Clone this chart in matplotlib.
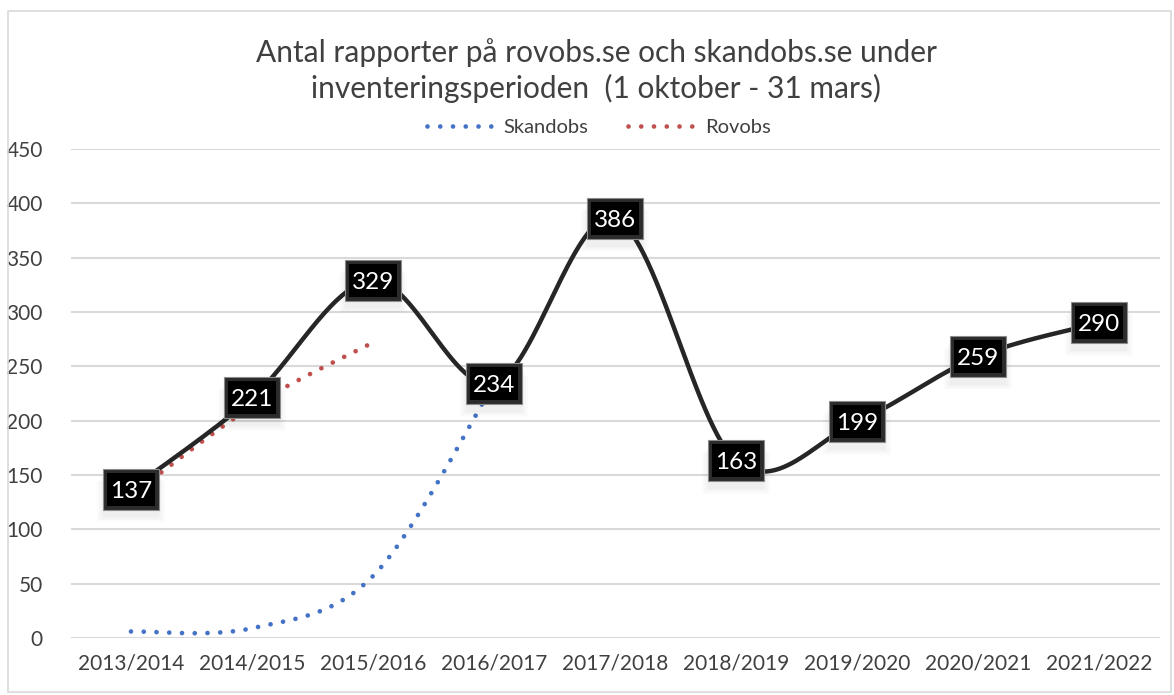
import matplotlib
matplotlib.use("Agg")
import matplotlib.pyplot as plt
from matplotlib.lines import Line2D
from matplotlib.patches import Rectangle
import numpy as np

plt.rcParams['font.family'] = ['Lato', 'DejaVu Sans']

# data
seasons = ["2013/2014", "2014/2015", "2015/2016", "2016/2017", "2017/2018",
           "2018/2019", "2019/2020", "2020/2021", "2021/2022"]
total = [137, 221, 329, 234, 386, 163, 199, 259, 290]
skandobs = [6, 9, 57, 234]
rovobs = [131, 213, 272]

title = "Antal rapporter på rovobs.se och skandobs.se under\ninventeringsperioden  (1 oktober - 31 mars)"

TXT = "#404040"
BLUE = "#4472C4"
RED = "#C0504D"


def smooth(ys, n=60):
    # Excel-liknande utjamning (Catmull-Rom som Bezier)
    xs = np.arange(len(ys), dtype=float)
    p = np.column_stack([xs, np.asarray(ys, dtype=float)])
    p = np.vstack([p[0], p, p[-1]])
    out = []
    for i in range(1, len(p) - 2):
        p0, p1, p2, p3 = p[i - 1], p[i], p[i + 1], p[i + 2]
        c1 = p1 + (p2 - p0) / 6
        c2 = p2 - (p3 - p1) / 6
        t = np.linspace(0, 1, n)[:, None]
        seg = ((1 - t) ** 3) * p1 + 3 * ((1 - t) ** 2) * t * c1 + 3 * (1 - t) * t ** 2 * c2 + t ** 3 * p2
        out.append(seg if i == 1 else seg[1:])
    seg = np.vstack(out)
    return seg[:, 0], seg[:, 1]


fig = plt.figure(figsize=(11.74, 6.95), dpi=100)
ax = fig.add_axes([70.5 / 1174, 57 / 695, 1089 / 1174, 489 / 695])

# ram runt diagrammet
fig.patches.append(Rectangle((8 / 1174, 3 / 695), 1163 / 1174, 681 / 695, transform=fig.transFigure,
                             fill=False, edgecolor="#D9D9D9", linewidth=1.2))

dots = (0, (0.001, 2.7))
x, y = smooth(skandobs)
ax.plot(x, y, color=BLUE, lw=3.4, linestyle=dots, dash_capstyle='round', zorder=2)
x, y = smooth(rovobs)
ax.plot(x, y, color=RED, lw=3.4, linestyle=dots, dash_capstyle='round', zorder=2)
x, y = smooth(total)
ax.plot(x, y, color="#262626", lw=3.2, solid_capstyle='round', zorder=3)

# etiketter i svarta rutor
bw, bh = 0.47, 37.5
for i, v in enumerate(total):
    for k in range(4):
        ax.add_patch(Rectangle((i - bw / 2 - 0.015 * k, v - bh / 2 - 7 - 1.5 * k), bw + 0.03 * k, bh,
                               facecolor="#000000", alpha=0.014, edgecolor="none", zorder=4))
    ax.add_patch(Rectangle((i - bw / 2, v - bh / 2), bw, bh, facecolor="#2b2b2b",
                           edgecolor="#8c8c8c", linewidth=0.8, zorder=5))
    ax.add_patch(Rectangle((i - bw / 2 + 0.035, v - bh / 2 + 3.6), bw - 0.07, bh - 7.2,
                           facecolor="#000000", edgecolor="none", zorder=6))
    ax.text(i, v, str(v), color="white", fontsize=17.5, ha="center", va="center_baseline", zorder=7)

ax.set_xlim(-0.5, len(seasons) - 0.5)
ax.set_ylim(0, 450)
ax.set_yticks(range(0, 451, 50))
ax.set_xticks(range(len(seasons)))
ax.set_xticklabels(seasons)
ax.tick_params(length=0, labelsize=15, labelcolor=TXT)
ax.tick_params(axis='x', pad=11)
ax.tick_params(axis='y', pad=20)
ax.grid(axis='y', color="#D9D9D9", lw=1.5)
ax.set_axisbelow(True)
for s in ax.spines.values():
    s.set_visible(False)

fig.text(0.508, 0.898, title, ha="center", va="center", fontsize=21.5, color=TXT, linespacing=1.28)

handles = [Line2D([], [], color=BLUE, lw=3.4, linestyle=dots, dash_capstyle='round'),
           Line2D([], [], color=RED, lw=3.4, linestyle=dots, dash_capstyle='round')]
fig.legend(handles, ["Skandobs", "Rovobs"], loc="center", bbox_to_anchor=(0.51, 0.817), ncol=2,
           frameon=False, fontsize=14.5, handlelength=3.3, columnspacing=2.0, handletextpad=0.5,
           labelcolor=TXT)

fig.savefig("out.png", dpi=100)
